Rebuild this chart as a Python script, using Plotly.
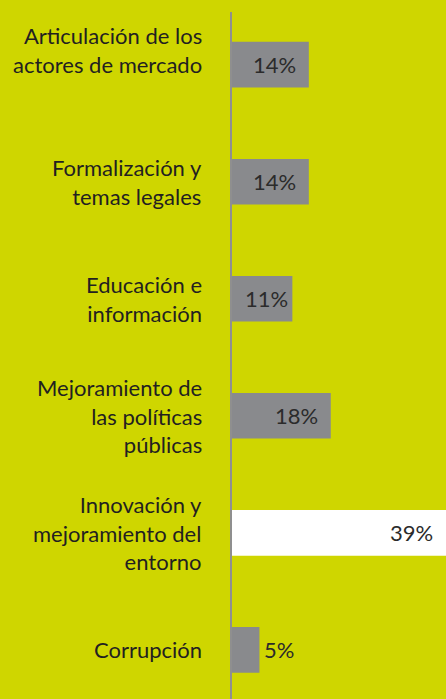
import plotly.graph_objects as go

categories = [
    "Articulación de los<br>actores de mercado",
    "Formalización y<br>temas legales",
    "Educación e<br>información",
    "Mejoramiento de<br>las políticas<br>públicas",
    "Innovación y<br>mejoramiento del<br>entorno",
    "Corrupción",
]
values = [14, 14, 11, 18, 39, 5]
value_labels = ["14%", "14%", "11%", "18%", "39%", "5%"]

BG = "#cfd600"
GREY = "#898a8d"
TEXT = "#231f20"
FONT = "Lato"

bar_colors = ["white" if v == max(values) else GREY for v in values]

fig = go.Figure(
    go.Bar(
        x=values,
        y=categories,
        orientation="h",
        marker=dict(color=bar_colors, line=dict(width=0)),
        width=0.39,
        hoverinfo="skip",
    )
)

# category labels on the left, right-aligned
for i, cat in enumerate(categories):
    fig.add_annotation(
        x=0, y=cat, xref="x", yref="y",
        text=cat, showarrow=False, align="right",
        xanchor="right", yanchor="middle",
        xshift=-28, yshift=15 if i == 0 else 0,
        font=dict(family=FONT, size=22, color=TEXT),
    )

# value labels: inside near bar end, outside if the bar is short
for cat, v, lab in zip(categories, values, value_labels):
    if v >= 14:
        anchor, shift = "right", -11
    elif v >= 8:
        anchor, shift = "right", -2
    else:
        anchor, shift = "left", 3
    fig.add_annotation(
        x=v, y=cat, xref="x", yref="y",
        text=lab, showarrow=False,
        xanchor=anchor, xshift=shift,
        font=dict(family=FONT, size=22, color="#2b2b2b"),
    )

fig.update_layout(
    width=446,
    height=699,
    paper_bgcolor=BG,
    plot_bgcolor=BG,
    margin=dict(l=232, r=0, t=12, b=0),
    showlegend=False,
    font=dict(family=FONT, color=TEXT),
)
fig.update_xaxes(range=[0, 39], visible=False, fixedrange=True)
fig.update_yaxes(
    type="category",
    categoryorder="array",
    categoryarray=categories,
    range=[5.42, -0.45],
    showticklabels=False,
    showgrid=False,
    zeroline=False,
    showline=True,
    linecolor="#8f8f8f",
    linewidth=2,
    ticks="",
)

fig.write_html(
    "out.html",
    config={"displayModeBar": False},
    post_script="document.body.style.margin='0';",
)
